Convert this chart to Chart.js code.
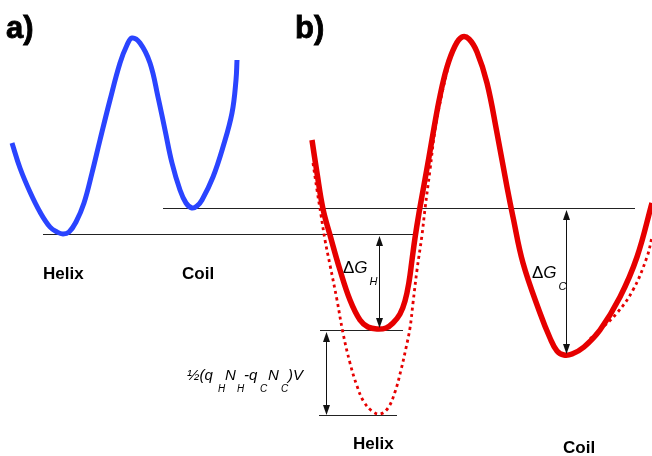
<!DOCTYPE html>
<html>
<head>
<meta charset="utf-8">
<script src="https://cdn.jsdelivr.net/npm/chart.js@4/dist/chart.umd.min.js"></script>
<style>
html,body{margin:0;padding:0;background:#fff;}
#wrap{width:652px;height:456px;}
</style>
</head>
<body>
<div id="wrap"><canvas id="c" width="652" height="456"></canvas></div>
<script>
// Panel a: blue free-energy profile (diagram units)
const blueCurve = [[12,143],[20,168],[30,192],[40,212],[50,227],[57,232],[63,234],[69,232],[76,222],[84,203],[92,173],[100,140],[110,100],[120,63],[127,45],[132,38],[140,43],[150,63],[158,97],[165,130],[172,163],[180,190],[186,203],[192,208],[197,206],[202,200],[213,177],[223,147],[232,113],[236,80],[237,60]];
// Panel b: red profile with field (solid)
const redSolid = [[312,140],[317,173],[323,209],[330,235],[340,270],[350,300],[360,320],[368,327],[377,329],[386,328],[393,323],[400,314],[405,301],[409,282],[412,260],[415,238],[419,213],[424,185],[429,157],[434,128],[440,96],[447,67],[455,46],[462,37],[469,39],[477,52],[487,83],[497,133],[507,187],[513,217],[523,263],[540,313],[550,338],[557,351],[564,355],[572,354],[584,347],[600,330],[620,297],[637,257],[652,203]];
// Panel b: red profile shifted (dotted), helix well and coil flank
const redDottedHelix = [[313,163],[317,190],[321,215],[325,240],[330,265],[337,300],[343,333],[350,363],[357,386],[364,402],[372,411],[380,414],[388,408],[395,392],[401,370],[406,348],[410,328],[413,303],[417,270],[422,235],[425,209],[430,170],[435,130],[441,98],[448,67]];
const redDottedCoil = [[590,339],[600,330],[617,313],[633,290],[647,257],[652,237]];
// Reference levels [y, xStart, xEnd]
const levelHelix = [234, 43, 415];
const levelCoil = [208, 163, 635];
const levelHelixMin = [330, 320, 403];
const levelShifted = [415, 319, 397];
// Double arrows [x, yTop, yBottom]
const arrowDGH = [379, 235, 329];
const arrowShift = [326, 331, 416];
const arrowDGC = [566, 209, 355];
// Text labels
const panelLabels = ['a)', 'b)'];
const stateLabels = ['Helix', 'Coil', 'Helix', 'Coil'];

const lv = l => [{x:l[1],y:l[0]+0.5},{x:l[2],y:l[0]+0.5}];
const pts = a => a.map(p => ({x:p[0], y:p[1]}));

const levelStyle = {showLine:true, pointRadius:0, borderColor:'#222', borderWidth:1, order:5};

const annot = {
  id:'annot',
  afterDatasetsDraw(chart){
    const ctx = chart.ctx, X = chart.scales.x, Y = chart.scales.y;
    const px = v => X.getPixelForValue(v), py = v => Y.getPixelForValue(v);
    ctx.save();
    // arrows
    [arrowDGH, arrowShift, arrowDGC].forEach(a => {
      const x = Math.round(px(a[0])) + 0.5, y1 = py(a[1]), y2 = py(a[2]);
      ctx.strokeStyle = '#111'; ctx.fillStyle = '#111'; ctx.lineWidth = 1;
      ctx.beginPath(); ctx.moveTo(x, y1 + 6); ctx.lineTo(x, y2 - 6); ctx.stroke();
      ctx.beginPath(); ctx.moveTo(x, y1 + 1); ctx.lineTo(x - 3.5, y1 + 11); ctx.lineTo(x + 3.5, y1 + 11); ctx.closePath(); ctx.fill();
      ctx.beginPath(); ctx.moveTo(x, y2 - 1); ctx.lineTo(x - 3.5, y2 - 11); ctx.lineTo(x + 3.5, y2 - 11); ctx.closePath(); ctx.fill();
    });
    ctx.fillStyle = '#000';
    ctx.textBaseline = 'alphabetic';
    ctx.textAlign = 'left';
    const F = 'Liberation Sans, Arial, sans-serif';
    ctx.font = 'bold 31px ' + F;
    ctx.lineWidth = 0.8; ctx.strokeStyle = '#000';
    ctx.fillText(panelLabels[0], px(6), py(38));
    ctx.strokeText(panelLabels[0], px(6), py(38));
    ctx.fillText(panelLabels[1], px(295), py(38));
    ctx.strokeText(panelLabels[1], px(295), py(38));
    ctx.font = 'bold 17px ' + F;
    ctx.fillText(stateLabels[0], px(43), py(279));
    ctx.fillText(stateLabels[1], px(182), py(279));
    ctx.fillText(stateLabels[2], px(353), py(449));
    ctx.fillText(stateLabels[3], px(563), py(453));
    // Delta G labels
    const dg = (x, yb, sub) => {
      ctx.font = '17px ' + F;
      ctx.fillText('\u0394', px(x), py(yb));
      const w = ctx.measureText('\u0394').width;
      ctx.font = 'italic 17px ' + F;
      ctx.fillText('G', px(x + w), py(yb));
      const wg = ctx.measureText('G').width;
      ctx.font = 'italic 11px ' + F;
      ctx.fillText(sub, px(x + w + wg + 2), py(yb + 12));
    };
    dg(343, 273, 'H');
    dg(532, 278, 'C');
    // formula
    const main = 'italic 15px ' + F, small = 'italic 10px ' + F;
    const parts = [['\u00BD(q',187,380,main],['H',218,392,small],['N',225,380,main],['H',237,392,small],['-q',244,380,main],['C',260,392,small],['N',268,380,main],['C',281,392,small],[')V',288,380,main]];
    parts.forEach(p => { ctx.font = p[3]; ctx.fillText(p[0], px(p[1]), py(p[2])); });
    ctx.restore();
  }
};

const curve = (data, color, width, order, dash) => ({
  data: pts(data), showLine:true, pointRadius:0, borderColor:color, borderWidth:width,
  tension:0.4, borderDash: dash || [], borderCapStyle:'butt', order:order
});

new Chart(document.getElementById('c'), {
  type:'scatter',
  data:{datasets:[
    Object.assign({data:lv(levelHelix)}, levelStyle),
    Object.assign({data:lv(levelCoil)}, levelStyle),
    Object.assign({data:lv(levelHelixMin)}, levelStyle),
    Object.assign({data:lv(levelShifted)}, levelStyle),
    curve(blueCurve, '#2a44ff', 5, 1),
    curve(redDottedHelix, '#e60000', 2.8, 3, [3,3.5]),
    curve(redDottedCoil, '#e60000', 2.8, 3, [3,3.5]),
    curve(redSolid, '#e60000', 5.5, 1)
  ]},
  options:{
    responsive:false, animation:false, devicePixelRatio:1,
    layout:{padding:0},
    plugins:{legend:{display:false}, tooltip:{enabled:false}},
    scales:{
      x:{type:'linear', min:0, max:652, display:false},
      y:{type:'linear', min:0, max:456, reverse:true, display:false}
    }
  },
  plugins:[annot]
});
</script>
</body>
</html>
